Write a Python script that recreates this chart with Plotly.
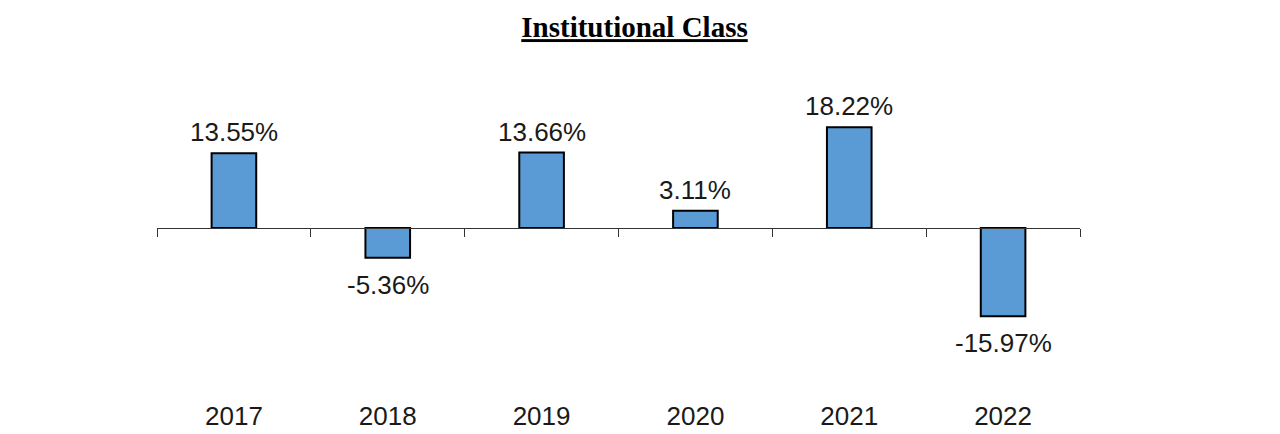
import plotly.graph_objects as go

years = ["2017", "2018", "2019", "2020", "2021", "2022"]
returns = [13.55, -5.36, 13.66, 3.11, 18.22, -15.97]
labels = ["13.55%", "-5.36%", "13.66%", "3.11%", "18.22%", "-15.97%"]

y_lo, y_hi = -30.2, 30.4
xpos = list(range(len(years)))

fig = go.Figure()
fig.add_trace(go.Bar(
    x=xpos, y=returns, width=0.29,
    marker=dict(color="#5B9BD5", line=dict(color="#000000", width=2)),
    hoverinfo="skip", showlegend=False,
))
# invisible trace to drive bottom category axis
fig.add_trace(go.Scatter(x=years, y=[0]*len(years), xaxis="x2", mode="markers",
                         marker=dict(opacity=0), hoverinfo="skip", showlegend=False))

for i, (v, t) in enumerate(zip(returns, labels)):
    fig.add_annotation(x=i, y=v, text=t, showarrow=False,
                       yanchor="bottom" if v >= 0 else "top",
                       yshift=4 if v >= 0 else -10,
                       font=dict(family="Liberation Sans, Arial", size=26, color="#1a1a1a"))

zero_pos = (0 - y_lo) / (y_hi - y_lo)

fig.update_layout(
    width=1280, height=434,
    margin=dict(l=149, r=208, t=52, b=47),
    paper_bgcolor="white", plot_bgcolor="white",
    title=dict(text="<b><u>Institutional Class</u></b>", x=626.5 / 1280, xref="container",
               xanchor="center",
               y=1 - 19 / 434, yref="container", yanchor="middle",
               font=dict(family="Liberation Serif, Times New Roman", size=29, color="black")),
    xaxis=dict(range=[-0.5, 5.5], anchor="free", position=zero_pos,
               showline=True, linecolor="#333333", linewidth=1.3,
               tickmode="array", tickvals=[-0.5, 0.5, 1.5, 2.5, 3.5, 4.5, 5.5],
               ticks="outside", ticklen=8, tickcolor="#333333", tickwidth=1.3,
               showticklabels=False, showgrid=False, zeroline=False),
    xaxis2=dict(range=[-0.5, 5.5], overlaying="x", anchor="free", position=0,
                showline=False, ticks="", showgrid=False, zeroline=False,
                type="category", ticklabelstandoff=3,
                tickfont=dict(family="Liberation Sans, Arial", size=26, color="#1a1a1a")),
    yaxis=dict(range=[y_lo, y_hi], visible=False, showgrid=False, zeroline=False),
)

fig.write_html("out.html")
